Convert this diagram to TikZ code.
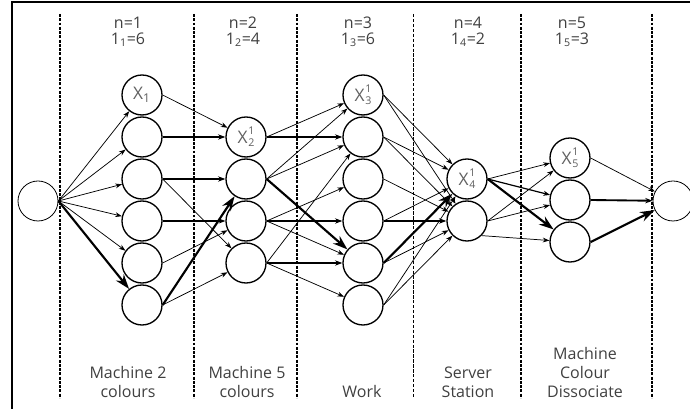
\documentclass[tikz,border=0pt]{standalone}
\usepackage{fontspec}
\setmainfont{Open Sans}
\usetikzlibrary{arrows.meta}
\colorlet{labelgray}{black!75}
\colorlet{nodegray}{black!62}
% X with a stacked super- and subscript
\newcommand{\xsub}[2]{X\kern0.6pt\raisebox{-2.6pt}{\fontsize{8}{8.4}\selectfont\shortstack[l]{#1\\#2}}}

\begin{document}
\begin{tikzpicture}[x=0.75pt,y=-0.75pt,
    stage/.style={circle,draw,line width=1pt,minimum size=30pt,inner sep=0pt,
      text=nodegray,font=\fontsize{13}{13}\selectfont},
    terminal/.style={circle,draw,line width=0.6pt,minimum size=30pt,inner sep=0pt},
    thinarr/.style={-{Stealth[length=5pt,width=3.6pt]},line width=0.55pt},
    midarr/.style={-{Stealth[length=5pt,width=3.8pt]},line width=0.9pt},
    thickarr/.style={-{Stealth[length=5.5pt,width=4pt]},line width=1.4pt},
    boldarr/.style={-{Stealth[length=11pt,width=7.5pt]},line width=1.6pt},
    divider/.style={line width=0.9pt,dash pattern=on 2.2pt off 1pt},
    subdivider/.style={line width=0.5pt,dash pattern=on 2.5pt off 1.2pt},
    toplabel/.style={anchor=north,inner sep=0pt,align=center,text=labelgray,
      font=\fontsize{12}{12}\selectfont},
    botlabel/.style={anchor=south,inner sep=0pt,align=center,text=labelgray,
      font=\fontsize{12}{14.3}\selectfont}]

  \useasboundingbox (0,0) rectangle (690,409);
  % frame and stage dividers
  \draw[line width=1.3pt] (12,409) -- (12,2) -- (690,2);
  \foreach \x in {60,194,297,521,652}
    \draw[divider] (\x,14) -- (\x,398);
  \draw[subdivider] (413,14) -- (413,398);

  % stage headers
  \node[toplabel] (hd1) at (128,16.5) {n=1\\1\textsubscript{1}=6};
  \node[toplabel] (hd2) at (243,16.5) {n=2\\1\textsubscript{2}=4};
  \node[toplabel] (hd3) at (358,16.5) {n=3\\1\textsubscript{3}=6};
  \node[toplabel] (hd4) at (468,16.5) {n=4\\1\textsubscript{4}=2};
  \node[toplabel] (hd5) at (572,16.5) {n=5\\1\textsubscript{5}=3};

  % states
  \node[terminal] (src) at (38,201) {};
  \node[stage] (a1) at (142,95) {X\textsubscript{1}};
  \foreach \i in {2,...,6}
    \node[stage] (a\i) at (142,{53+42*\i}) {};
  \node[stage] (b1) at (246,137) {\xsub{1}{2}};
  \foreach \i in {2,3,4}
    \node[stage] (b\i) at (246,{95+42*\i}) {};
  \node[stage] (c1) at (363,95) {\xsub{1}{3}};
  \foreach \i in {2,...,6}
    \node[stage] (c\i) at (363,{53+42*\i}) {};
  \node[stage] (d1) at (467,179) {\xsub{1}{4}};
  \node[stage] (d2) at (467,221) {};
  \node[stage] (e1) at (570,158) {\xsub{1}{5}};
  \node[stage] (e2) at (570,200) {};
  \node[stage] (e3) at (570,242) {};
  \node[terminal] (snk) at (673,201) {};

  % transitions
  \foreach \i in {1,...,5}
    \draw[thinarr] (src.east) -- (a\i);
  \foreach \s/\t in {a1/b1,a3/b4,a5/b3,a6/b4,
                     b1/c1,b2/c1,b2/c2,b3/c3,b3/c5,b4/c2,b4/c6,
                     c1/d1,c1/d2,c2/d1,c2/d2,c3/d2,c4/d1,c5/d2,c6/d1,c6/d2,
                     d1/e1,d2/e1,d2/e2,e1/snk}
    \draw[thinarr] (\s.east) -- (\t);
  \draw[thinarr] (d2.south east) -- (e3);
  \foreach \s/\t in {a4/b3,d1/e2}
    \draw[midarr] (\s.east) -- (\t);
  \foreach \s/\t in {a2/b1,a3/b2,b1/c2,b3/c4,b4/c5,c4/d2,e2/snk}
    \draw[thickarr] (\s.east) -- (\t);
  % best path
  \draw[boldarr] (src.east) -- (a6);
  \foreach \s/\t in {a6/b2,b2/c5,c5/d1,d1/e3,e3/snk}
    \draw[boldarr] (\s.east) -- (\t);

  % stage names
  \node[botlabel] (nm1) at (128,398) {Machine 2\\colours};
  \node[botlabel] (nm2) at (247,398) {Machine 5\\colours};
  \node[botlabel] (nm3) at (362,398) {Work};
  \node[botlabel] (nm4) at (468,398) {Server\\Station};
  \node[botlabel] (nm5) at (585,398) {Machine\\Colour\\Dissociate};
\end{tikzpicture}
\end{document}
